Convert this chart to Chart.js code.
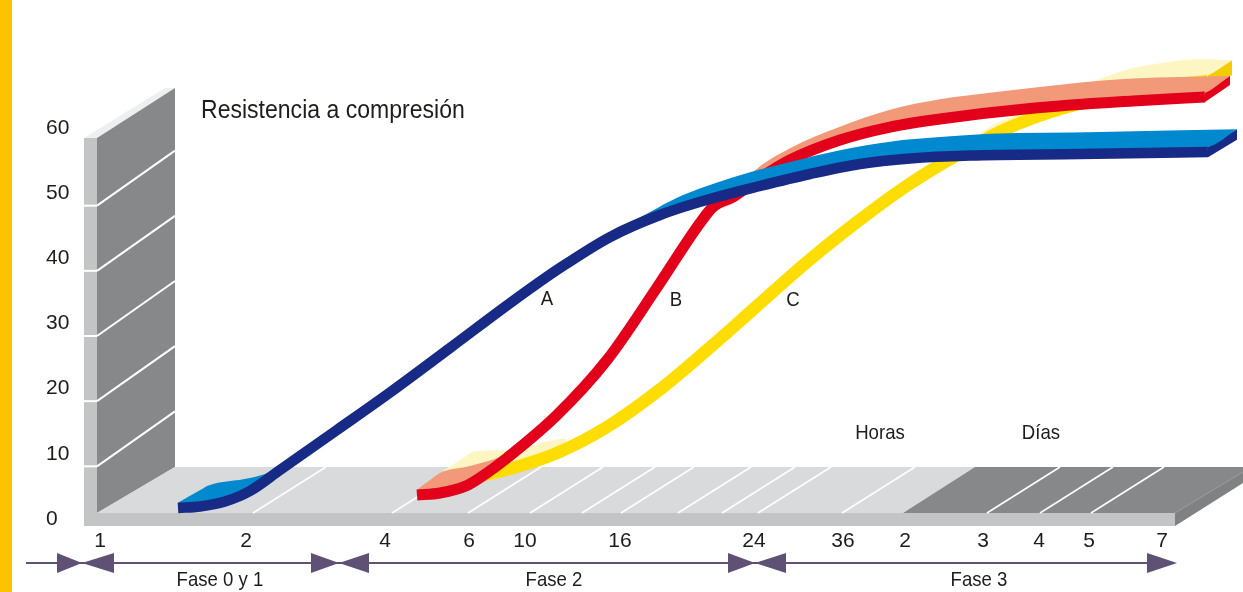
<!DOCTYPE html>
<html>
<head>
<meta charset="utf-8">
<title>Resistencia a compresión</title>
<script src="https://cdn.jsdelivr.net/npm/chart.js@4"></script>
<style>
  html, body { margin: 0; padding: 0; background: #fff; }
  canvas { display: block; }
</style>
</head>
<body>
<canvas id="myChart" width="1243" height="592"></canvas>
<script>
//Axis ticks
const yTicks = [0, 10, 20, 30, 40, 50, 60];
const xTickPos = [100, 246, 385, 469, 525, 620, 754, 843, 905, 983, 1039, 1089, 1162];
const xTickLabels = ['1', '2', '4', '6', '10', '16', '24', '36', '2', '3', '4', '5', '7'];
const floorLines = [253, 392, 468, 530, 582, 621, 678, 722, 758, 842, 987, 1040, 1091];

//Curve A
const xA = [178, 200, 225, 250, 280, 337, 390, 450, 513, 560, 610, 660, 710, 760, 810, 860, 910, 970, 1080, 1208];
const yA = [1.69, 1.92, 2.69, 4.30, 7.52, 13.66, 19.41, 26.24, 33.45, 38.52, 43.27, 46.65, 49.10, 51.10, 52.94, 54.47, 55.32, 55.78, 56.01, 56.32];
const xABack = [178, 195, 203, 207, 250, 268, 337, 513, 620, 657, 683, 750, 790, 840, 890, 940, 990, 1100, 1237];
const yABack = [2.5, 3.99, 4.68, 5.06, 6.3, 7.1, 13.66, 33.45, 44.5, 47.7, 49.7, 53.2, 54.8, 56.6, 57.9, 58.6, 59.1, 59.4, 59.8];
const xASide = [1208, 1237];
const yASideTop = [57.1, 59.8];
const yASideBottom = [55.5, 58.2];

//Curve B
const xB = [417, 440, 467, 487, 507, 557, 607, 656, 700, 713, 733, 760, 790, 840, 890, 940, 1030, 1133, 1205];
const yB = [3.68, 3.99, 5.14, 7.06, 9.36, 15.96, 24.40, 35.29, 45.42, 47.88, 49.41, 52.33, 55.09, 58.16, 60.15, 61.38, 62.99, 64.14, 64.76];
const xBBack = [417, 430, 442, 470, 507, 557, 607, 656, 700, 713, 733, 753, 790, 840, 890, 940, 990, 1067, 1133, 1230];
const yBBack = [4.5, 5.98, 7.2, 8.13, 10.1, 15.96, 24.40, 35.29, 45.42, 47.88, 49.41, 53.2, 56.9, 60.2, 62.8, 64.4, 65.4, 66.75, 67.59, 67.98];
const xBSide = [1205, 1230];
const yBSideTop = [65.4, 68.0];
const yBSideBottom = [64.0, 66.6];

//Curve C
const xC = [465, 513, 557, 607, 658, 707, 757, 807, 857, 907, 957, 1007, 1060, 1150, 1208];
const yC = [6.14, 7.83, 10.13, 14.12, 19.64, 25.93, 32.68, 39.44, 45.57, 51.16, 55.86, 59.92, 62.91, 66.14, 67.21];
const xCBack = [443, 459, 475, 510, 565, 570, 607, 658, 707, 757, 807, 857, 907, 957, 985, 1025, 1093, 1133, 1167, 1200, 1232];
const yCBack = [7.4, 8.9, 10.4, 10.6, 12.3, 11.05, 14.12, 19.64, 25.93, 32.68, 39.44, 45.57, 51.16, 55.86, 59.7, 62.6, 67.1, 69.2, 70.1, 70.6, 70.4];
const xCSide = [1208, 1232];
const yCSideTop = [68.1, 70.4];
const yCSideBottom = [67.1, 68.1];

const pts = (xs, ys) => xs.map((x, i) => ({ x, y: ys[i] }));

const FONT = '"Liberation Sans", sans-serif';
const INK = '#1d1d1b';

//The front of a ribbon, hidden, closes the fill of its top face
const faceEdge = (xs, ys, side, sideTop, back) => {
  const edge = pts(xs, ys);
  edge[edge.length - 1] = { x: side[0], y: sideTop[0] };
  edge.push({ x: side[1], y: sideTop[1] });
  if (back.x < xs[0]) edge.unshift(back);
  return edge;
};

const ribbon = (xs, ys, xBack, yBack, side, sideTop, sideBottom, width, front, face, sideColor) => {
  const base = { pointRadius: 0, cubicInterpolationMode: 'monotone', borderWidth: 0 };
  return [
    { ...base, data: pts(xs, ys), borderColor: front, borderWidth: width, borderCapStyle: 'butt' },
    { ...base, data: pts(xBack, yBack), fill: '+1', backgroundColor: face },
    { ...base, data: faceEdge(xs, ys, side, sideTop, { x: xBack[0], y: yBack[0] }) },
    { ...base, data: pts(side, sideBottom), fill: '+1', backgroundColor: sideColor },
    { ...base, data: pts(side, sideTop) },
  ];
};

const datasets = [
  ...ribbon(xA, yA, xABack, yABack, xASide, yASideTop, yASideBottom, 10.5, '#172a85', '#0089cf', '#172a85'),
  ...ribbon(xB, yB, xBBack, yBBack, xBSide, yBSideTop, yBSideBottom, 11, '#e2001a', '#f2997a', '#e2001a'),
  ...ribbon(xC, yC, xCBack, yCBack, xCSide, yCSideTop, yCSideBottom, 12.5, '#ffdd00', '#fdf6c3', '#f4cc00'),
];

const polygon = (ctx, color, points) => {
  ctx.fillStyle = color;
  ctx.beginPath();
  points.forEach((p, i) => (i ? ctx.lineTo(p[0], p[1]) : ctx.moveTo(p[0], p[1])));
  ctx.closePath();
  ctx.fill();
};

const segment = (ctx, x1, y1, x2, y2) => {
  ctx.beginPath();
  ctx.moveTo(x1, y1);
  ctx.lineTo(x2, y2);
  ctx.stroke();
};

//The reference type is condensed, squeeze the text sideways
const narrowText = (ctx, text, x, y, align) => {
  ctx.save();
  ctx.translate(x, y);
  ctx.scale(0.886, 1);
  ctx.textAlign = align;
  ctx.fillText(text, 0, 0);
  ctx.restore();
};

//Walls and floor behind the curves
const stage = {
  id: 'stage',
  beforeDatasetsDraw(chart) {
    const { ctx } = chart;
    const sx = chart.scales.x;
    const sy = chart.scales.y;
    ctx.save();
    polygon(ctx, '#fec200', [[0, 0], [12, 0], [12, 592], [0, 592]]);
    polygon(ctx, '#eeefef', [[84, 138], [165, 88], [175, 88], [97, 138]]);
    polygon(ctx, '#87888a', [[97, 138], [175, 88], [175, 467], [97, 513]]);
    polygon(ctx, '#c3c4c6', [[84, 138], [97, 138], [97, 526], [84, 526]]);
    polygon(ctx, '#d9dadc', [[97, 513], [175, 467], [975, 467], [903, 513]]);
    polygon(ctx, '#87888a', [[903, 513], [975, 467], [1243, 467], [1243, 472], [1175, 513]]);
    polygon(ctx, '#808183', [[1175, 513], [1243, 472], [1243, 483], [1175, 526]]);
    polygon(ctx, '#c3c4c6', [[84, 513], [1175, 513], [1175, 526], [84, 526]]);

    ctx.strokeStyle = '#fff';
    ctx.lineWidth = 2;
    yTicks.slice(1, -1).forEach((v) => {
      const y = sy.getPixelForValue(v) + 12.5;
      segment(ctx, 84, y, 97, y);
      segment(ctx, 97, y, 175, y - 55);
    });
    ctx.lineWidth = 1.6;
    floorLines.forEach((x) => {
      const px = sx.getPixelForValue(x);
      segment(ctx, px, 513, px + 73, 467);
    });
    ctx.restore();
  },
  afterDatasetsDraw(chart) {
    const { ctx } = chart;
    const sx = chart.scales.x;
    ctx.save();
    //Phase arrows
    ctx.strokeStyle = '#5f5075';
    ctx.lineWidth = 2;
    segment(ctx, sx.getPixelForValue(26), 563, sx.getPixelForValue(1150), 563);
    const arrow = '#5f5075';
    [[57, 82], [114, 82], [311, 339], [369, 339], [728, 755], [786, 755], [1147, 1177]].forEach(([base, tip]) => {
      polygon(ctx, arrow, [[sx.getPixelForValue(base), 553], [sx.getPixelForValue(tip), 563], [sx.getPixelForValue(base), 573]]);
    });
    //Labels
    ctx.fillStyle = INK;
    ctx.textBaseline = 'middle';
    ctx.font = `21px ${FONT}`;
    [['A', 547, 299], ['B', 676, 300], ['C', 793, 300], ['Horas', 880, 433], ['Días', 1041, 433],
      ['Fase 0 y 1', 220, 580], ['Fase 2', 554, 580], ['Fase 3', 979, 580]]
      .forEach(([t, x, y]) => narrowText(ctx, t, x, y, 'center'));
    ctx.font = `26px ${FONT}`;
    narrowText(ctx, 'Resistencia a compresión', 201, 111, 'left');
    ctx.restore();
  },
};

new Chart(document.getElementById('myChart'), {
  type: 'line',
  data: { datasets },
  plugins: [stage],
  options: {
    responsive: false,
    animation: false,
    layout: { padding: 0 },
    plugins: { legend: { display: false }, tooltip: { enabled: false }, title: { display: false } },
    scales: {
      x: {
        type: 'linear',
        min: 0,
        max: 1243,
        grid: { display: false, drawTicks: false },
        border: { display: false },
        afterFit: (scale) => { scale.height = 66; },
        afterBuildTicks: (scale) => { scale.ticks = xTickPos.map((value) => ({ value })); },
        ticks: {
          autoSkip: false,
          maxRotation: 0,
          padding: 3,
          color: INK,
          font: { family: FONT, size: 21 },
          callback: (value, i) => xTickLabels[i],
        },
      },
      y: {
        type: 'linear',
        min: -1.074,
        max: 79.64,
        grid: { display: false, drawTicks: false },
        border: { display: false },
        afterFit: (scale) => {
          scale.width = 0;
          scale.paddingTop = 0;
          scale.paddingBottom = 0;
        },
        afterBuildTicks: (scale) => { scale.ticks = yTicks.map((value) => ({ value })); },
        ticks: {
          mirror: true,
          padding: 46,
          color: INK,
          font: { family: FONT, size: 21 },
        },
      },
    },
  },
});
</script>
</body>
</html>
